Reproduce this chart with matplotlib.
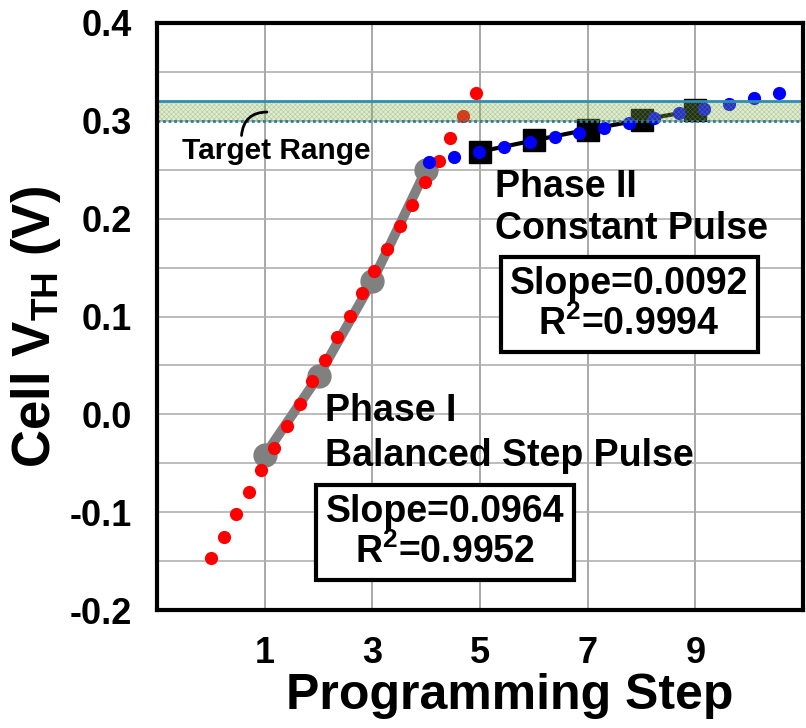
import matplotlib
matplotlib.use("Agg")
import matplotlib.pyplot as plt
from matplotlib.ticker import MultipleLocator

# ---- data -------------------------------------------------------------
# Phase I, individual pulses (red)
red_x = [0.01, 0.24, 0.47, 0.71, 0.94, 1.17, 1.41, 1.65, 1.88, 2.12, 2.34,
         2.58, 2.81, 3.04, 3.28, 3.52, 3.74, 3.97, 4.24, 4.45, 4.69, 4.92]
red_y = [-0.147, -0.125, -0.102, -0.079, -0.057, -0.034, -0.012, 0.011,
         0.034, 0.056, 0.079, 0.101, 0.124, 0.146, 0.169, 0.192, 0.214,
         0.237, 0.259, 0.282, 0.305, 0.328]

# Phase II, individual pulses (blue)
blue_x = [4.05, 4.52, 4.98, 5.45, 5.93, 6.39, 6.84, 7.31, 7.77, 8.24, 8.70,
          9.16, 9.62, 10.09, 10.55]
blue_y = [0.258, 0.263, 0.268, 0.273, 0.278, 0.283, 0.288, 0.293, 0.298,
          0.303, 0.308, 0.312, 0.317, 0.323, 0.328]

# Step averages
phase1_steps = [1, 2, 3, 4]
phase1_vth = [-0.042, 0.039, 0.136, 0.250]
phase2_steps = [5, 6, 7, 8, 9]
phase2_vth = [0.2685, 0.280, 0.291, 0.301, 0.3106]

target_low, target_high = 0.30, 0.32

x_ticks = [1, 3, 5, 7, 9]
x_tick_labels = ["1", "3", "5", "7", "9"]
y_ticks = [-0.2, -0.1, 0.0, 0.1, 0.2, 0.3, 0.4]
y_tick_labels = ["-0.2", "-0.1", "0.0", "0.1", "0.2", "0.3", "0.4"]

# ---- style ------------------------------------------------------------
plt.rcParams['font.family'] = ['Liberation Sans', 'DejaVu Sans']
plt.rcParams['font.weight'] = 'bold'
plt.rcParams['mathtext.fontset'] = 'custom'
plt.rcParams['mathtext.rm'] = 'Liberation Sans:bold'
plt.rcParams['mathtext.bf'] = 'Liberation Sans:bold'
plt.rcParams['mathtext.it'] = 'Liberation Sans:bold'
plt.rcParams['hatch.linewidth'] = 0.5

fig = plt.figure(figsize=(8.06, 7.28), dpi=100)
ax = fig.add_axes([157 / 806, 118 / 728, 646 / 806, 587 / 728])

ax.set_xlim(-1, 11)
ax.set_ylim(-0.2, 0.4)

# grid
ax.set_xticks(x_ticks)
ax.set_xticklabels(x_tick_labels)
ax.set_yticks(y_ticks)
ax.set_yticklabels(y_tick_labels)
ax.yaxis.set_minor_locator(MultipleLocator(0.05))
ax.grid(True, which='major', axis='x', color='#9a9a9a', lw=1.2, zorder=0)
ax.grid(True, which='both', axis='y', color='#b0b0b0', lw=1.2, zorder=0)
ax.set_axisbelow(True)
ax.tick_params(which='both', length=0)
ax.tick_params(axis='x', pad=19, labelsize=26)
ax.tick_params(axis='y', pad=18, labelsize=26)
for lab in ax.get_xticklabels() + ax.get_yticklabels():
    lab.set_fontweight('bold')

for sp in ax.spines.values():
    sp.set_linewidth(3)
    sp.set_color('black')
    sp.set_zorder(10)

# Phase I: step averages with trend
ax.plot(phase1_steps, phase1_vth, color='#808080', lw=7, marker='o', ms=16.5,
        solid_capstyle='round', zorder=2)
ax.plot(red_x, red_y, ls='none', marker='o', ms=9.5, color='#ff0000',
        mec='none', zorder=3)

# Phase II: step averages with trend
ax.plot(phase2_steps, phase2_vth, color='black', lw=3, marker='s', ms=16,
        zorder=4)
ax.plot(blue_x, blue_y, ls='none', marker='o', ms=9.5, color='#0000ff',
        mec='none', zorder=5)

# target window
ax.axhspan(target_low, target_high, facecolor=(120 / 255, 196 / 255, 36 / 255),
           alpha=0.25, lw=0, zorder=6)
ax.axhspan(target_low, target_high, facecolor='none', edgecolor='#8c8c8c',
           hatch='xxxxxxx', lw=0, alpha=0.4, zorder=6)
ax.axhline(target_high, color='#2e8db0', lw=2, zorder=7)
ax.axhline(target_low, color='#2a7f95', lw=2, ls=(0, (1, 1)), zorder=7)

ax.text(-0.54, 0.269, 'Target Range', fontsize=21.5, fontweight='bold',
        ha='left', va='center', zorder=8)
ax.annotate('', xy=(1.04, 0.309), xytext=(0.57, 0.285),
            arrowprops=dict(arrowstyle='-', color='black', lw=2,
                            connectionstyle='arc3,rad=-0.45',
                            shrinkA=0, shrinkB=0), zorder=8)

# phase annotations
ax.text(5.28, 0.222, 'Phase II', fontsize=27, fontweight='bold',
        ha='left', va='baseline', zorder=8)
ax.text(5.28, 0.179, 'Constant Pulse', fontsize=27, fontweight='bold',
        ha='left', va='baseline', zorder=8)
ax.text(2.12, -0.007, 'Phase I', fontsize=27, fontweight='bold',
        ha='left', va='baseline', zorder=8)
ax.text(2.12, -0.053, 'Balanced Step Pulse', fontsize=27, fontweight='bold',
        ha='left', va='baseline', zorder=8)

box = dict(boxstyle='square,pad=0.25', facecolor='white', edgecolor='black',
           linewidth=3)
ax.text(7.77, 0.112, 'Slope=0.0092\nR$^2$=0.9994', fontsize=27,
        fontweight='bold', ha='center', va='center', linespacing=1.1,
        bbox=box, zorder=9)
ax.text(4.35, -0.121, 'Slope=0.0964\nR$^2$=0.9952', fontsize=27,
        fontweight='bold', ha='center', va='center', linespacing=1.1,
        bbox=box, zorder=9)

# axis titles
ax.set_xlabel('Programming Step', fontsize=36, fontweight='bold')
ax.xaxis.set_label_coords(0.546, -0.108)
ax.set_ylabel(r'Cell V$_\mathregular{TH}$ (V)', fontsize=38, fontweight='bold')
ax.yaxis.set_label_coords(-0.146, 0.482)

fig.savefig('out.png', dpi=100)
